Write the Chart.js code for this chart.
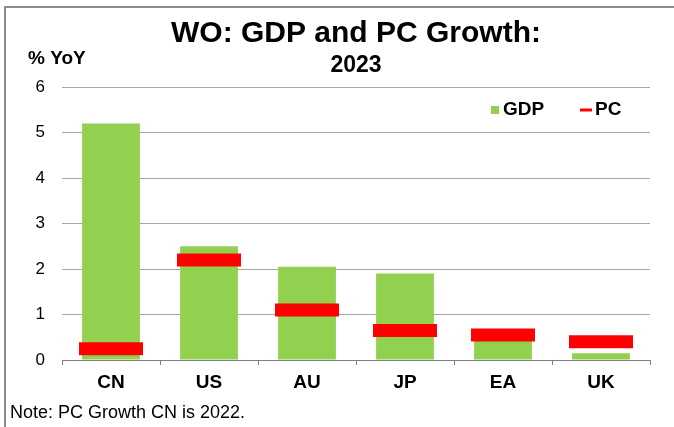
<!DOCTYPE html>
<html>
<head>
<meta charset="utf-8">
<script src="https://cdn.jsdelivr.net/npm/chart.js@4.4.1/dist/chart.umd.min.js"></script>
<style>
  html, body { margin: 0; padding: 0; background: #fff; }
  .chart-wrap { width: 674px; height: 427px; position: relative; }
</style>
</head>
<body>
<div class="chart-wrap"><canvas class="js-growth"></canvas></div>
<script>
const categories = ["CN", "US", "AU", "JP", "EA", "UK"];
const gdpGrowth = [5.2, 2.5, 2.05, 1.9, 0.5, 0.15];
const pcGrowth = [0.25, 2.2, 1.1, 0.65, 0.55, 0.4];
const yTicks = [0, 1, 2, 3, 4, 5, 6];

const FONT = "'Liberation Sans', Arial, sans-serif";
const GREEN = "#92D050";
const RED = "#FF0000";
const GRID = "#A6A6A6";

// frame, y-axis caption, legend and footnote
const extras = {
  id: "extras",
  afterDraw(chart) {
    const ctx = chart.ctx;
    const area = chart.chartArea;
    ctx.save();

    // outer frame (only top and left edges are visible in the crop)
    ctx.strokeStyle = "#8C8C8C";
    ctx.lineWidth = 2;
    ctx.beginPath();
    ctx.moveTo(674, 7);
    ctx.lineTo(5, 7);
    ctx.lineTo(5, 427);
    ctx.stroke();

    ctx.fillStyle = "#000";
    ctx.textBaseline = "alphabetic";
    ctx.textAlign = "left";
    ctx.font = "bold 19px " + FONT;
    ctx.fillText("% YoY", 28, 64);

    ctx.font = "18px " + FONT;
    ctx.fillText("Note: PC Growth CN is 2022.", 10, 418);

    // legend
    const ly = area.top + 23;
    ctx.font = "bold 19px " + FONT;
    ctx.textBaseline = "middle";
    ctx.fillStyle = chart.data.datasets[0].backgroundColor;
    ctx.fillRect(491, ly - 4, 8, 8);
    ctx.fillStyle = "#000";
    ctx.fillText(chart.data.datasets[0].label, 503, ly);

    ctx.strokeStyle = chart.data.datasets[1].pointBorderColor;
    ctx.lineWidth = 3;
    ctx.beginPath();
    ctx.moveTo(580, ly);
    ctx.lineTo(592, ly);
    ctx.stroke();
    ctx.fillText(chart.data.datasets[1].label, 595, ly);

    ctx.restore();
  },
};

const chartGrowth = function () {
  const el = document.querySelector(".js-growth");

  new Chart(el, {
    type: "bar",
    data: {
      labels: categories,
      datasets: [
        {
          label: "GDP",
          data: gdpGrowth,
          backgroundColor: GREEN,
          borderWidth: 0,
          categoryPercentage: 1,
          barPercentage: 0.59,
          order: 1,
        },
        {
          type: "line",
          label: "PC",
          data: pcGrowth,
          showLine: false,
          pointStyle: "line",
          pointRadius: 32,
          pointBorderWidth: 13,
          pointBorderColor: RED,
          pointBackgroundColor: RED,
          order: 0,
        },
      ],
    },
    options: {
      responsive: true,
      maintainAspectRatio: false,
      animation: false,
      events: [],
      layout: {
        autoPadding: false, // the wide PC markers would otherwise push the plot in
        padding: { left: 0, right: 24, top: 0, bottom: 0 },
      },
      scales: {
        x: {
          offset: true,
          grid: {
            display: true,
            offset: true,
            drawOnChartArea: false,
            drawTicks: true,
            tickLength: 5,
            color: "#808080",
          },
          border: { display: true, color: "#808080", width: 1 },
          ticks: {
            color: "#000",
            padding: 6,
            font: { family: FONT, size: 19, weight: "bold" },
          },
          afterFit(scale) {
            scale.height = 67;
          },
        },
        y: {
          min: 0,
          max: 6,
          afterBuildTicks(scale) {
            scale.ticks = yTicks.map((v) => ({ value: v }));
          },
          grid: {
            color: GRID,
            drawTicks: false,
          },
          border: { display: false },
          ticks: {
            color: "#000",
            padding: 17,
            font: { family: FONT, size: 17 },
          },
          afterFit(scale) {
            scale.width = 62;
          },
        },
      },
      plugins: {
        legend: { display: false },
        tooltip: { enabled: false },
        title: {
          display: true,
          fullSize: false,
          text: "WO: GDP and PC Growth:",
          color: "#000",
          font: { family: FONT, size: 30, weight: "bold" },
          padding: { top: 16, bottom: 0 },
        },
        subtitle: {
          display: true,
          fullSize: false,
          text: "2023",
          color: "#000",
          font: { family: FONT, size: 23, weight: "bold" },
          padding: { top: 0, bottom: 7.4 },
        },
      },
    },
    plugins: [extras],
  });
};

const init = function () {
  chartGrowth();
};

document.addEventListener("DOMContentLoaded", init);
</script>
</body>
</html>
